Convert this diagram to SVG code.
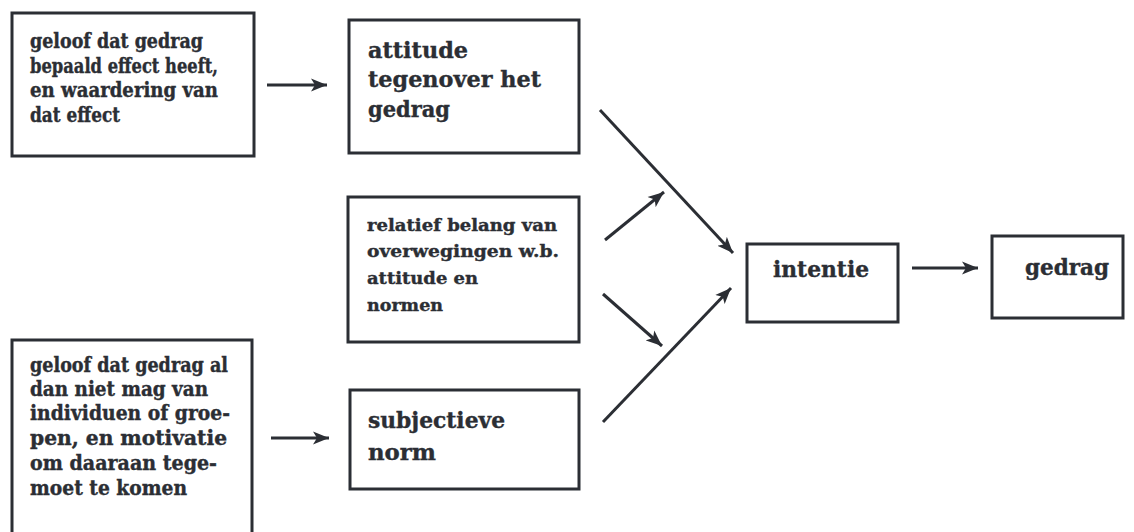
<svg xmlns="http://www.w3.org/2000/svg" width="1134" height="532" viewBox="0 0 1134 532">
<defs>
<style>
.box{fill:#fff;stroke:#2b2e34;stroke-width:3}
.t{font-family:"DejaVu Serif","Liberation Serif",serif;font-weight:bold;fill:#2b2e34;stroke:#2b2e34;stroke-width:0.4}
.s18{font-size:19.5px}
.s16{font-size:17.5px}
.s22{font-size:23px}
.c{fill:none;stroke:#2b2e34;stroke-width:3}
</style>
<marker id="ah" markerUnits="userSpaceOnUse" markerWidth="18" markerHeight="14" refX="16" refY="7" orient="auto">
<path d="M0,0.5 L16,7 L0,13.5 L4,7 Z" fill="#2b2e34"/>
</marker>
</defs>
<rect width="1134" height="532" fill="#fff"/>
<g id="n-geloof1">
<rect class="box" x="12" y="13" width="242" height="143"/>
<text class="t s18" x="30" y="48" textLength="173" lengthAdjust="spacingAndGlyphs">geloof dat gedrag</text>
<text class="t s18" x="30" y="73" textLength="188" lengthAdjust="spacingAndGlyphs">bepaald effect heeft,</text>
<text class="t s18" x="30" y="97" textLength="188" lengthAdjust="spacingAndGlyphs">en waardering van</text>
<text class="t s18" x="30" y="122" textLength="90" lengthAdjust="spacingAndGlyphs">dat effect</text>
</g>
<g id="n-attitude">
<rect class="box" x="349" y="20" width="230" height="133"/>
<text class="t s22" x="368" y="58" textLength="100" lengthAdjust="spacingAndGlyphs">attitude</text>
<text class="t s22" x="368" y="87" textLength="173" lengthAdjust="spacingAndGlyphs">tegenover het</text>
<text class="t s22" x="368" y="117" textLength="82" lengthAdjust="spacingAndGlyphs">gedrag</text>
</g>
<g id="n-relatief">
<rect class="box" x="348" y="197" width="231" height="145"/>
<text class="t s16" x="367" y="231" textLength="190" lengthAdjust="spacingAndGlyphs">relatief belang van</text>
<text class="t s16" x="367" y="257" textLength="192" lengthAdjust="spacingAndGlyphs">overwegingen w.b.</text>
<text class="t s16" x="367" y="284" textLength="111" lengthAdjust="spacingAndGlyphs">attitude en</text>
<text class="t s16" x="367" y="311" textLength="76" lengthAdjust="spacingAndGlyphs">normen</text>
</g>
<g id="n-geloof2">
<rect class="box" x="12" y="340" width="240" height="210"/>
<text class="t s18" x="30" y="372" textLength="198" lengthAdjust="spacingAndGlyphs">geloof dat gedrag al</text>
<text class="t s18" x="30" y="396" textLength="178" lengthAdjust="spacingAndGlyphs">dan niet mag van</text>
<text class="t s18" x="30" y="420" textLength="200" lengthAdjust="spacingAndGlyphs">individuen of groe-</text>
<text class="t s18" x="30" y="445" textLength="197" lengthAdjust="spacingAndGlyphs">pen, en motivatie</text>
<text class="t s18" x="30" y="470" textLength="187" lengthAdjust="spacingAndGlyphs">om daaraan tege-</text>
<text class="t s18" x="30" y="495" textLength="157" lengthAdjust="spacingAndGlyphs">moet te komen</text>
</g>
<g id="n-subjectieve">
<rect class="box" x="350" y="390" width="229" height="99"/>
<text class="t s22" x="368" y="428" textLength="137" lengthAdjust="spacingAndGlyphs">subjectieve</text>
<text class="t s22" x="368" y="460" textLength="68" lengthAdjust="spacingAndGlyphs">norm</text>
</g>
<g id="n-intentie">
<rect class="box" x="747" y="244" width="151" height="78"/>
<text class="t s22" x="773" y="277" textLength="96" lengthAdjust="spacingAndGlyphs">intentie</text>
</g>
<g id="n-gedrag">
<rect class="box" x="992" y="236" width="131" height="82"/>
<text class="t s22" x="1025" y="275" textLength="84" lengthAdjust="spacingAndGlyphs">gedrag</text>
</g>
<g id="connectors">
<line class="c" x1="267" y1="85" x2="327" y2="85" marker-end="url(#ah)"/>
<line class="c" x1="271" y1="438" x2="329" y2="438" marker-end="url(#ah)"/>
<line class="c" x1="600" y1="110" x2="733" y2="253" marker-end="url(#ah)"/>
<line class="c" x1="605" y1="240" x2="664" y2="192" marker-end="url(#ah)"/>
<line class="c" x1="603" y1="294" x2="662" y2="346" marker-end="url(#ah)"/>
<line class="c" x1="603" y1="422" x2="731" y2="288" marker-end="url(#ah)"/>
<line class="c" x1="912" y1="268" x2="978" y2="268" marker-end="url(#ah)"/>
</g>
</svg>
